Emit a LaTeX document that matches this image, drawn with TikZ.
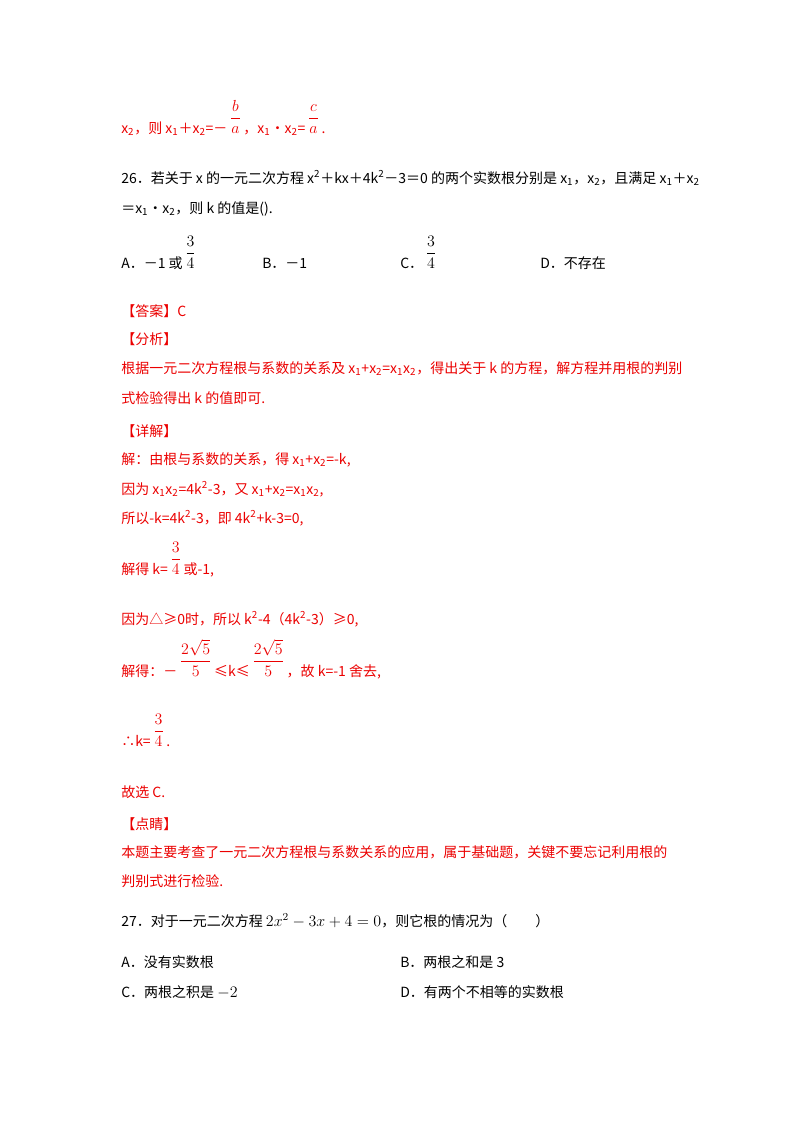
\documentclass[tikz,border=0pt]{standalone}
\usepackage{fontspec}
\usepackage{amsmath}
\setmainfont{Noto Sans CJK SC}
\definecolor{rd}{RGB}{235,0,0}
\newcommand{\xsb}[1]{\textsubscript{#1}}
\newcommand{\xsp}[1]{\textsuperscript{#1}}
\newcommand{\xfr}[2]{\,\raisebox{\depth}{\fontsize{12}{14}\selectfont$\dfrac{#1}{#2}$}\,}
\begin{document}
\begin{tikzpicture}[x=0.75pt,y=-0.75pt,
 t/.style={anchor=base west,inner sep=0pt,font=\fontsize{10.5}{12}\selectfont},
 r/.style={t,text=rd}]
\useasboundingbox (0,0) rectangle (800,1132);
\node[r] (l1) at (121,133) {x\xsb{2}，则 x\xsb{1}＋x\xsb{2}=－\xfr{b}{a}，x\xsb{1}•x\xsb{2}=\xfr{c}{a}.};
\node[t] (q1) at (121,183) {26．若关于 x 的一元二次方程 x\xsp{2}＋kx＋4k\xsp{2}－3＝0 的两个实数根分别是 x\xsb{1}，x\xsb{2}，且满足 x\xsb{1}＋x\xsb{2}};
\node[t] (q2) at (121,213) {＝x\xsb{1}·x\xsb{2}，则 k 的值是().};
\node[t] (oa) at (121,268) {A．－1 或\xfr{3}{4}};
\node[t] (ob) at (262,268) {B．－1};
\node[t] (oc) at (400,268) {C．\xfr{3}{4}};
\node[t] (od) at (540,268) {D．不存在};
\node[r] (a1) at (121,316) {【答案】C};
\node[r] (a2) at (121,344) {【分析】};
\node[r] (a3) at (121,373) {根据一元二次方程根与系数的关系及 x\xsb{1}+x\xsb{2}=x\xsb{1}x\xsb{2}，得出关于 k 的方程，解方程并用根的判别};
\node[r] (a4) at (121,403) {式检验得出 k 的值即可.};
\node[r] (a5) at (121,436) {【详解】};
\node[r] (a6) at (121,464) {解：由根与系数的关系，得 x\xsb{1}+x\xsb{2}=-k,};
\node[r] (a7) at (121,494) {因为 x\xsb{1}x\xsb{2}=4k\xsp{2}-3，又 x\xsb{1}+x\xsb{2}=x\xsb{1}x\xsb{2},};
\node[r] (a8) at (121,523) {所以-k=4k\xsp{2}-3，即 4k\xsp{2}+k-3=0,};
\node[r] (a9) at (121,574) {解得 k=\xfr{3}{4}或-1,};
\node[r] (a10) at (121,624) {因为△≥0时，所以 k\xsp{2}-4（4k\xsp{2}-3）≥0,};
\node[r] (a11) at (121,676) {解得：－\xfr{2\sqrt5}{5}≤k≤\xfr{2\sqrt5}{5}，故 k=-1 舍去,};
\node[r] (a12) at (121,746) {∴k=\xfr{3}{4}.};
\node[r] (a13) at (121,797) {故选 C.};
\node[r] (a14) at (121,829) {【点睛】};
\node[r] (a15) at (121,857) {本题主要考查了一元二次方程根与系数关系的应用，属于基础题，关键不要忘记利用根的};
\node[r] (a16) at (121,886) {判别式进行检验.};
\node[t] (q3) at (121,926) {27．对于一元二次方程 {\fontsize{12}{14}\selectfont$2x^2-3x+4=0$}，则它根的情况为（\hspace{2em}）};
\node[t] (p1) at (121,967) {A．没有实数根};
\node[t] (p2) at (400,967) {B．两根之和是 3};
\node[t] (p3) at (121,997) {C．两根之积是 {\fontsize{12}{14}\selectfont$-2$}};
\node[t] (p4) at (400,997) {D．有两个不相等的实数根};
\end{tikzpicture}
\end{document}
